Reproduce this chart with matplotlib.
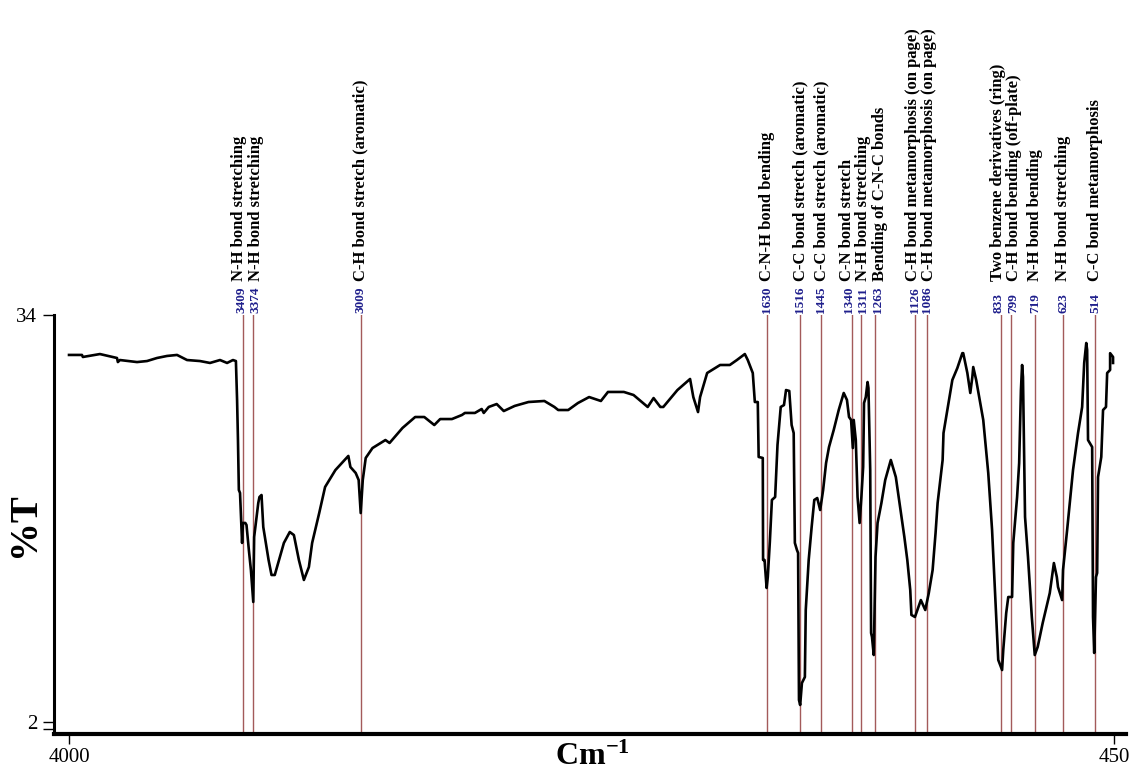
import matplotlib
matplotlib.use('Agg')
import matplotlib.pyplot as plt
from matplotlib.ticker import FixedLocator

plt.rcParams['font.family'] = ['Liberation Serif', 'DejaVu Serif']
plt.rcParams['mathtext.fontset'] = 'custom'
plt.rcParams['mathtext.rm'] = 'Liberation Serif:bold'
plt.rcParams['mathtext.it'] = 'Liberation Serif:bold'
plt.rcParams['mathtext.bf'] = 'Liberation Serif:bold'

# ============================================================
# SPECTRUM
# ============================================================
wavenumber = [
    4000, 3956, 3953, 3895, 3837, 3834, 3827, 3769, 3735, 3701, 3667, 3633,
    3599, 3555, 3521, 3487, 3463, 3443, 3433, 3429, 3426, 3423, 3419, 3412,
    3409, 3401, 3397, 3389, 3382, 3374, 3371, 3357, 3353, 3346, 3340, 3322,
    3312, 3301, 3270, 3250, 3236, 3219, 3202, 3185, 3174, 3150, 3130, 3095,
    3064, 3051, 3044, 3026, 3016, 3009, 3002, 2992, 2969, 2925, 2911, 2867,
    2824, 2793, 2759, 2739, 2699, 2665, 2655, 2621, 2598, 2591, 2574, 2547,
    2523, 2486, 2439, 2385, 2351, 2338, 2304, 2271, 2233, 2193, 2169, 2115,
    2082, 2034, 2014, 1991, 1981, 1933, 1890, 1879, 1863, 1856, 1832, 1788,
    1755, 1731, 1704, 1694, 1677, 1670, 1660, 1657, 1643, 1642, 1637, 1630,
    1626, 1619, 1612, 1601, 1593, 1582, 1571, 1564, 1553, 1545, 1538, 1534,
    1527, 1523, 1520, 1516, 1510, 1500, 1497, 1487, 1477, 1468, 1458, 1448,
    1438, 1428, 1418, 1402, 1385, 1368, 1357, 1350, 1343, 1337, 1334, 1327,
    1321, 1314, 1308, 1302, 1299, 1293, 1287, 1284, 1278, 1275, 1272, 1266,
    1260, 1253, 1240, 1227, 1208, 1191, 1175, 1162, 1152, 1142, 1138, 1126,
    1106, 1091, 1079, 1066, 1056, 1049, 1032, 1029, 1012, 999, 982, 965,
    962, 948, 938, 931, 928, 918, 904, 894, 877, 864, 853, 843,
    830, 826, 816, 809, 796, 792, 779, 772, 766, 762, 759, 752,
    742, 729, 719, 709, 692, 668, 654, 644, 640, 626, 623, 609,
    589, 572, 558, 551, 544, 541, 538, 524, 521, 517, 511, 507,
    504, 493, 487, 477, 473, 463, 463, 453, 453,
]
transmittance = [
    30.86, 30.86, 30.70, 30.93, 30.62, 30.30, 30.46, 30.30, 30.38, 30.62, 30.78, 30.86,
    30.46, 30.38, 30.23, 30.46, 30.23, 30.46, 30.38, 27.32, 24.17, 20.24, 20.01, 16.08,
    17.65, 17.65, 17.49, 15.53, 13.95, 11.44, 16.55, 19.22, 19.69, 19.85, 17.33, 14.74,
    13.56, 13.56, 16.08, 16.94, 16.70, 14.74, 13.17, 14.19, 16.08, 18.43, 20.48, 21.81,
    22.60, 22.92, 22.05, 21.58, 21.03, 18.43, 21.03, 22.76, 23.54, 24.17, 23.94, 25.12,
    25.98, 25.98, 25.35, 25.82, 25.82, 26.14, 26.30, 26.30, 26.61, 26.30, 26.77, 27.00,
    26.45, 26.85, 27.16, 27.24, 26.77, 26.53, 26.53, 27.08, 27.55, 27.24, 27.95, 27.95,
    27.71, 26.77, 27.47, 26.77, 26.77, 28.10, 28.97, 27.55, 26.37, 27.55, 29.44, 30.07,
    30.07, 30.46, 30.93, 30.46, 29.44, 27.16, 27.16, 22.84, 22.76, 14.74, 14.74, 12.54,
    13.40, 16.16, 19.46, 19.69, 23.78, 26.77, 26.92, 28.10, 28.03, 25.35, 24.72, 16.08,
    15.53, 15.29, 3.73, 3.34, 5.07, 5.54, 10.81, 14.74, 17.33, 19.46, 19.61, 18.67,
    20.24, 22.36, 23.62, 24.96, 26.53, 27.87, 27.32, 25.98, 25.75, 23.54, 25.75, 24.17,
    19.69, 17.65, 19.69, 22.05, 27.08, 27.55, 28.73, 28.26, 21.81, 9.00, 8.69, 7.27,
    14.98, 17.65, 19.22, 21.03, 22.60, 21.26, 18.67, 16.55, 14.74, 12.38, 10.42, 10.26,
    11.59, 10.81, 12.14, 13.95, 16.86, 19.22, 22.60, 24.72, 27.08, 28.89, 29.83, 31.00,
    31.00, 29.44, 27.87, 29.13, 29.91, 28.89, 27.08, 25.75, 21.58, 17.10, 11.83, 6.88,
    6.09, 7.67, 10.57, 11.83, 11.83, 16.08, 19.69, 22.36, 28.10, 30.07, 29.13, 18.12,
    14.98, 10.26, 7.27, 7.91, 9.79, 12.14, 14.50, 13.40, 12.62, 11.59, 13.95, 17.10,
    21.81, 24.72, 26.77, 30.23, 31.80, 31.25, 24.17, 23.62, 10.26, 7.43, 13.40, 13.72,
    21.26, 22.84, 26.53, 26.77, 29.44, 29.68, 31.00, 30.70, 30.23,
]

# ============================================================
# PEAK ASSIGNMENTS
# ============================================================
peak_positions = [3409, 3374, 3009, 1630, 1516, 1445, 1340, 1311, 1263,
                  1126, 1086, 833, 799, 719, 623, 514]
peak_labels = [
    'N-H bond stretching',
    'N-H bond stretching',
    'C-H bond stretch (aromatic)',
    'C-N-H bond bending',
    'C-C bond stretch (aromatic)',
    'C-C bond stretch (aromatic)',
    'C-N bond stretch',
    'N-H bond stretching',
    'Bending of C-N-C bonds',
    'C-H bond metamorphosis (on page)',
    'C-H bond metamorphosis (on page)',
    'Two benzene derivatives (ring)',
    'C-H bond bending (off-plate)',
    'N-H bond bending',
    'N-H bond stretching',
    'C-C bond metamorphosis',
]
# small sideways nudges (pixels) so crowded labels do not collide
label_nudge = [-4, 3, 0, 0, 0, 0, -5, 2, 5, -2, 2, -3, 3, 0, 0, 0]
number_nudge = [-2, 2, 0, 0, 0, 0, -3, 2, 3, 0, 0, -3, 2, 0, 0, 0]

x_ticks = [4000, 450]
y_ticks = [2, 34]

# ============================================================
# FIGURE
# ============================================================
fig = plt.figure(figsize=(11.33, 7.7), dpi=100)
ax = fig.add_axes([54 / 1133, 36 / 770, 1072 / 1133, 419 / 770])

for w in peak_positions:
    ax.axvline(w, color='#a35a5a', lw=1.0, zorder=1)

ax.plot(wavenumber, transmittance, color='black', lw=1.9, zorder=3)

ax.set_xlim(4051, 409)
ax.set_ylim(1.06, 34)

for side in ['top', 'right']:
    ax.spines[side].set_visible(False)
ax.spines['left'].set_linewidth(2.2)
ax.spines['bottom'].set_linewidth(3.0)

ax.set_xticks(x_ticks)
ax.set_xticklabels([str(t) for t in x_ticks], fontsize=15)
ax.set_yticks(y_ticks)
ax.set_yticklabels([str(t) for t in y_ticks], fontsize=15)
ax.yaxis.set_minor_locator(FixedLocator([1.45]))
ax.tick_params(axis='y', which='both', length=8, width=1.0, pad=4)
ax.tick_params(axis='x', length=7, width=1.0, pad=3)

# peak numbers and assignments above the plot
for w, lab, dx, ndx in zip(peak_positions, peak_labels, label_nudge, number_nudge):
    ax.annotate(str(w), xy=(w, 1), xycoords=('data', 'axes fraction'),
                xytext=(ndx * 0.72, 1.5), textcoords='offset points',
                rotation=90, ha='center', va='bottom', fontsize=9.5,
                fontweight='bold', color='#1f1f8c', annotation_clip=False)
    ax.annotate(lab, xy=(w, 1), xycoords=('data', 'axes fraction'),
                xytext=(dx * 0.72, 24.5), textcoords='offset points',
                rotation=90, ha='center', va='bottom', fontsize=12,
                fontweight='bold', color='black', annotation_clip=False)

fig.text(25 / 1133, 1 - 525 / 770, '%T', rotation=90, ha='center', va='center',
         fontsize=28, fontweight='bold')
fig.text(592 / 1133, 1 - 757 / 770, r'$\mathrm{Cm}^{-1}$', ha='center', va='center',
         fontsize=23)

fig.savefig('out.png', dpi=100)
